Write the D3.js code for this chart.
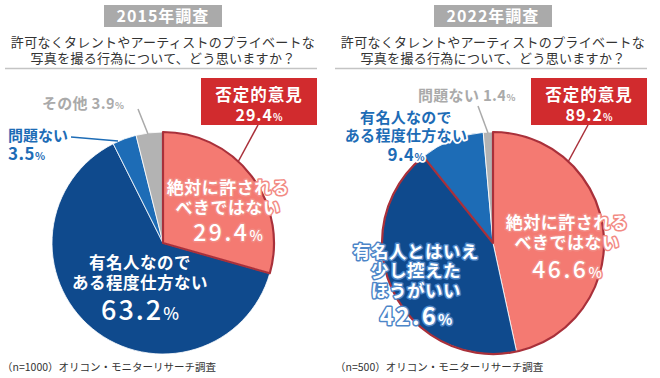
<!DOCTYPE html>
<html>
<head>
<meta charset="utf-8">
<script src="https://cdn.jsdelivr.net/npm/d3@7"></script>
<style>
  body { margin: 0; background: #fff; }
  svg { display: block; font-family: "Noto Sans CJK JP", "Noto Sans", sans-serif; }
  .outlined { paint-order: stroke; stroke-linejoin: round; }
</style>
</head>
<body>
<div id="chart"></div>
<script>
// survey data
const years = ["2015年調査", "2022年調査"];
const sampleNotes = ["（n=1000）オリコン・モニターリサーチ調査", "（n=500）オリコン・モニターリサーチ調査"];
const question = ["許可なくタレントやアーティストのプライベートな", "写真を撮る行為について、どう思いますか？"];

const categories2015 = ["絶対に許されるべきではない", "有名人なのである程度仕方ない", "問題ない", "その他"];
const values2015 = [29.4, 63.2, 3.5, 3.9];

const categories2022 = ["絶対に許されるべきではない", "有名人とはいえ少し控えたほうがいい", "有名人なのである程度仕方ない", "問題ない"];
const values2022 = [46.6, 42.6, 9.4, 1.4];

// how many leading slices make up the "否定的意見" group
const negativeCounts = [1, 2];
const negativeTotals = [29.4, 89.2];

const sliceColors2015 = ["#f47a72", "#0f4a8d", "#1d6cb6", "#b3b3b3"];
const sliceColors2022 = ["#f47a72", "#0f4a8d", "#1d6cb6", "#b3b3b3"];

const width = 660;
const height = 378;
const radius = 111;

const svg = d3.select("#chart")
  .append("svg")
  .attr("width", width)
  .attr("height", height);

const pie = d3.pie().sort(null).value((d) => d);
const arc = d3.arc().innerRadius(0).outerRadius(radius);

// one text element per line; a line can end with a small "%"
function addLabel(g, x, lines, style) {
  lines.forEach((line) => {
    const t = g.append("text")
      .attr("class", "outlined")
      .attr("x", x)
      .attr("y", line.y)
      .attr("text-anchor", style.anchor || "middle")
      .attr("font-weight", line.weight || "bold")
      .attr("font-size", line.size)
      .attr("letter-spacing", line.spacing || 0)
      .attr("fill", style.fill)
      .attr("stroke", style.stroke || "none")
      .attr("stroke-width", style.strokeWidth || 0);
    if (line.pct) {
      t.append("tspan").text(line.text);
      t.append("tspan").attr("font-size", line.size * 0.62).attr("letter-spacing", 0).text("%");
    } else {
      t.text(line.text);
    }
  });
}

function drawPanel(i, offsetX, values, colors) {
  const cx = offsetX + 163;
  const cy = 243;
  const g = svg.append("g");

  // year badge
  g.append("rect")
    .attr("x", cx - 59).attr("y", 5)
    .attr("width", 118).attr("height", 22)
    .attr("fill", "#aaaaaa");
  g.append("text")
    .attr("x", cx).attr("y", 22)
    .attr("text-anchor", "middle")
    .attr("font-size", 16).attr("font-weight", "bold")
    .attr("fill", "#fff")
    .attr("letter-spacing", 1)
    .text(years[i]);

  // question
  question.forEach((q, k) => {
    g.append("text")
      .attr("x", cx).attr("y", 47 + k * 16)
      .attr("text-anchor", "middle")
      .attr("font-size", 13)
      .attr("letter-spacing", 0.3)
      .attr("fill", "#333")
      .text(q);
  });

  g.append("line")
    .attr("x1", offsetX + 5).attr("x2", offsetX + 317)
    .attr("y1", 68.5).attr("y2", 68.5)
    .attr("stroke", "#c4c4c4").attr("stroke-width", 1.5);

  const arcs = pie(values);
  const pieG = g.append("g").attr("transform", `translate(${cx},${cy})`);

  pieG.selectAll("path.slice")
    .data(arcs)
    .enter()
    .append("path")
    .attr("class", "slice")
    .attr("d", arc)
    .attr("fill", (d, j) => colors[j])
    .attr("stroke", "#fff")
    .attr("stroke-width", 0.8);

  // outline of the negative group
  const negEnd = arcs[negativeCounts[i] - 1].endAngle;
  pieG.append("path")
    .attr("d", arc({ startAngle: 0, endAngle: negEnd }))
    .attr("fill", "none")
    .attr("stroke", "#a9303a")
    .attr("stroke-width", 2.2)
    .attr("stroke-linejoin", "round");

  // 否定的意見 box
  g.append("line")
    .attr("x1", cx + 95).attr("y1", 125)
    .attr("x2", cx + 75).attr("y2", 162)
    .attr("stroke", "#a9303a").attr("stroke-width", 1.5);
  g.append("rect")
    .attr("x", cx + 38).attr("y", 78)
    .attr("width", 116).attr("height", 47)
    .attr("fill", "#d12b2e");
  addLabel(g, cx + 96, [
    { text: "否定的意見", y: 101, size: 16.5, spacing: 1 },
    { text: negativeTotals[i].toFixed(1), y: 121, size: 16, spacing: 1, pct: true },
  ], { fill: "#fff" });

  return { g, cx, cy };
}

// 2015
const p1 = drawPanel(0, 0, values2015, sliceColors2015);
addLabel(p1.g, p1.cx + 65, [
  { text: "絶対に許される", y: 194, size: 17, spacing: 0.5 },
  { text: "べきではない", y: 214, size: 17, spacing: 0.5 },
  { text: values2015[0].toFixed(1), y: 241, size: 23, spacing: 2.5, weight: 500, pct: true },
], { fill: "#fff", stroke: "#f28a83", strokeWidth: 3 });
addLabel(p1.g, p1.cx - 23, [
  { text: "有名人なので", y: 269, size: 16.5, spacing: 0.5 },
  { text: "ある程度仕方ない", y: 289, size: 16.5, spacing: 0.5 },
  { text: values2015[1].toFixed(1), y: 320, size: 27, spacing: 2, weight: 500, pct: true },
], { fill: "#fff" });
addLabel(p1.g, 8, [
  { text: "問題ない", y: 141, size: 15 },
  { text: values2015[2].toFixed(1), y: 160, size: 17, spacing: 0.5, pct: true },
], { anchor: "start", fill: "#1d6cb6", stroke: "#fff", strokeWidth: 3.5 });
p1.g.append("line")
  .attr("x1", 71).attr("y1", 137).attr("x2", 118).attr("y2", 141)
  .attr("stroke", "#1d6cb6").attr("stroke-width", 1.5);
addLabel(p1.g, 42, [
  { text: "その他 " + values2015[3].toFixed(1), y: 109, size: 15, spacing: 0.3, pct: true },
], { anchor: "start", fill: "#aaaaaa", stroke: "#fff", strokeWidth: 3.5 });
p1.g.append("line")
  .attr("x1", 138).attr("y1", 109).attr("x2", 148).attr("y2", 134)
  .attr("stroke", "#aaaaaa").attr("stroke-width", 1.5);

// 2022
const p2 = drawPanel(1, 330, values2022, sliceColors2022);
addLabel(p2.g, p2.cx + 74, [
  { text: "絶対に許される", y: 229, size: 17, spacing: 0.5 },
  { text: "べきではない", y: 249, size: 17, spacing: 0.5 },
  { text: values2022[0].toFixed(1), y: 278, size: 23, spacing: 2.5, weight: 500, pct: true },
], { fill: "#fff", stroke: "#f28a83", strokeWidth: 3 });
addLabel(p2.g, p2.cx - 77, [
  { text: "有名人とはいえ", y: 258, size: 17.5, spacing: 0.5 },
  { text: "少し控えた", y: 277, size: 17.5, spacing: 0.5 },
  { text: "ほうがいい", y: 297, size: 17.5, spacing: 0.5 },
  { text: values2022[1].toFixed(1), y: 325, size: 24, spacing: 2, pct: true },
], { fill: "#fff", stroke: "#4d86c8", strokeWidth: 3 });
addLabel(p2.g, p2.cx - 87, [
  { text: "有名人なので", y: 123, size: 15, spacing: 0.3 },
  { text: "ある程度仕方ない", y: 141, size: 15, spacing: 0.3 },
  { text: values2022[2].toFixed(1), y: 161, size: 17, spacing: 0.5, pct: true },
], { fill: "#1d6cb6", stroke: "#fff", strokeWidth: 3.5 });
addLabel(p2.g, 418, [
  { text: "問題ない " + values2022[3].toFixed(1), y: 101, size: 15, spacing: 0.3, pct: true },
], { anchor: "start", fill: "#aaaaaa", stroke: "#fff", strokeWidth: 3.5 });
p2.g.append("line")
  .attr("x1", 478).attr("y1", 106).attr("x2", 488).attr("y2", 133)
  .attr("stroke", "#aaaaaa").attr("stroke-width", 1.5);

// footnotes
sampleNotes.forEach((n, i) => {
  svg.append("text")
    .attr("x", i === 0 ? 2 : 335).attr("y", 371)
    .attr("font-size", 10.5)
    .attr("fill", "#333")
    .text(n);
});
</script>
</body>
</html>
